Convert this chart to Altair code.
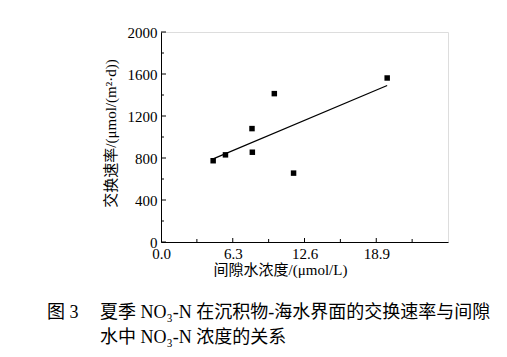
import altair as alt
import pandas as pd

# data
conc = [4.58, 5.66, 7.99, 8.02, 9.95, 11.64, 19.86]
rate = [774, 830, 1080, 855, 1413, 656, 1562]

x_major = [0.0, 6.3, 12.6, 18.9]
x_minor = [3.15, 9.45, 15.75, 22.05]
y_major = [0, 400, 800, 1200, 1600, 2000]
y_minor = [200, 600, 1000, 1400, 1800]

x_title = "间隙水浓度/(μmol/L)"
y_title = "交换速率/(μmol/(m²·d))"
cap1a = "图 3"
cap1b = "夏季 NO₃-N 在沉积物-海水界面的交换速率与间隙"
cap2 = "水中 NO₃-N 浓度的关系"

FONT = "Liberation Serif, Noto Sans CJK SC"
W, H = 287, 210

df = pd.DataFrame({"x": conc, "y": rate})
xs = alt.Scale(domain=[0, 25.2], nice=False, zero=False)
ys = alt.Scale(domain=[0, 2000], nice=False)

base = alt.Chart(df)

points = base.mark_square(size=30, color="black", opacity=1).encode(
    x=alt.X("x:Q", scale=xs,
            axis=alt.Axis(values=x_major, format=".1f", ticks=False, grid=False,
                          domainColor="black", domainWidth=1,
                          labelFont=FONT, labelFontSize=15, labelColor="black",
                          labelPadding=4, labelFlush=False,
                          title=x_title, titleFont=FONT, titleFontSize=15,
                          titleFontWeight="normal", titleColor="black",
                          titleX=119, titleY=20, titleAlign="center",
                          titleBaseline="top")),
    y=alt.Y("y:Q", scale=ys,
            axis=alt.Axis(values=y_major, format="d", ticks=False, grid=False,
                          domainColor="black", domainWidth=1,
                          labelFont=FONT, labelFontSize=15, labelColor="black",
                          labelPadding=4, labelFlush=False,
                          title=y_title, titleFont=FONT, titleFontSize=15,
                          titleFontWeight="normal", titleColor="black",
                          titleAngle=270, titleX=-51, titleY=101,
                          titleAlign="center", titleBaseline="middle")),
)

fit = base.transform_regression("x", "y").mark_line(color="black", strokeWidth=1.2).encode(
    x=alt.X("x:Q", scale=xs), y=alt.Y("y:Q", scale=ys)
)

ymaj = alt.Chart(pd.DataFrame({"v": y_major})).mark_rule(color="black", strokeWidth=1).encode(
    y=alt.Y("v:Q", scale=ys), x=alt.value(0), x2=alt.value(5))
ymin = alt.Chart(pd.DataFrame({"v": y_minor})).mark_rule(color="black", strokeWidth=1).encode(
    y=alt.Y("v:Q", scale=ys), x=alt.value(0), x2=alt.value(3))
xmaj = alt.Chart(pd.DataFrame({"v": x_major[1:]})).mark_rule(color="black", strokeWidth=1).encode(
    x=alt.X("v:Q", scale=xs), y=alt.value(H), y2=alt.value(H - 4))
xmin = alt.Chart(pd.DataFrame({"v": x_minor})).mark_rule(color="black", strokeWidth=1).encode(
    x=alt.X("v:Q", scale=xs), y=alt.value(H), y2=alt.value(H - 3))

one = pd.DataFrame({"d": [0]})
c1a = alt.Chart(one).mark_text(text=cap1a, font=FONT, fontSize=18, align="left",
                               baseline="middle", color="black").encode(
    x=alt.value(-114), y=alt.value(281))
c1b = alt.Chart(one).mark_text(text=cap1b, font=FONT, fontSize=18, align="left",
                               baseline="middle", color="black").encode(
    x=alt.value(-61), y=alt.value(281))
c2 = alt.Chart(one).mark_text(text=cap2, font=FONT, fontSize=18, align="left",
                              baseline="middle", color="black").encode(
    x=alt.value(-61), y=alt.value(306))

chart = alt.layer(fit, points, ymaj, ymin, xmaj, xmin, c1a, c1b, c2).properties(
    width=W, height=H,
    autosize=alt.AutoSizeParams(type="none"),
    padding={"left": 153, "top": 24, "right": 51, "bottom": 107},
).configure_view(stroke=None).configure(background="white")

chart.save("out.html", embed_options={"renderer": "svg", "actions": False})
